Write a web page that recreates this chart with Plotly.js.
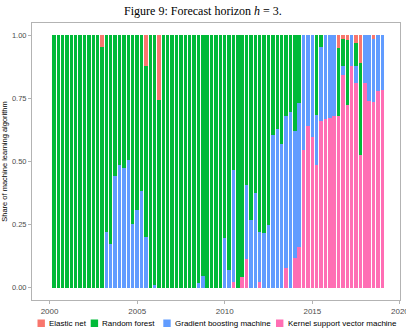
<!DOCTYPE html>
<html>
<head>
<meta charset="utf-8">
<script src="https://cdn.plot.ly/plotly-3.0.1.min.js"></script>
<style>
  html, body { margin: 0; padding: 0; background: #ffffff; }
  #chart { width: 406px; height: 328px; }
</style>
</head>
<body>
<div id="chart"></div>
<script>
// Quarter-end dates of the forecast origins
const quarters = [
  '2000-03-31','2000-06-30','2000-09-30','2000-12-31',
  '2001-03-31','2001-06-30','2001-09-30','2001-12-31',
  '2002-03-31','2002-06-30','2002-09-30','2002-12-31',
  '2003-03-31','2003-06-30','2003-09-30','2003-12-31',
  '2004-03-31','2004-06-30','2004-09-30','2004-12-31',
  '2005-03-31','2005-06-30','2005-09-30','2005-12-31',
  '2006-03-31','2006-06-30','2006-09-30','2006-12-31',
  '2007-03-31','2007-06-30','2007-09-30','2007-12-31',
  '2008-03-31','2008-06-30','2008-09-30','2008-12-31',
  '2009-03-31','2009-06-30','2009-09-30','2009-12-31',
  '2010-03-31','2010-06-30','2010-09-30','2010-12-31',
  '2011-03-31','2011-06-30','2011-09-30','2011-12-31',
  '2012-03-31','2012-06-30','2012-09-30','2012-12-31',
  '2013-03-31','2013-06-30','2013-09-30','2013-12-31',
  '2014-03-31','2014-06-30','2014-09-30','2014-12-31',
  '2015-03-31','2015-06-30','2015-09-30','2015-12-31',
  '2016-03-31','2016-06-30','2016-09-30','2016-12-31',
  '2017-03-31','2017-06-30','2017-09-30','2017-12-31',
  '2018-03-31','2018-06-30','2018-09-30','2018-12-31'
];

// Share of each algorithm per quarter (four values per row = one year)
const elasticNet = [
  0, 0, 0, 0,
  0, 0, 0, 0,
  0, 0, 0, 0.046,
  0, 0, 0, 0,
  0, 0, 0, 0,
  0, 0.123, 0, 0,
  0.255, 0, 0, 0,
  0, 0, 0, 0,
  0, 0, 0, 0,
  0, 0, 0, 0,
  0, 0, 0, 0,
  0, 0, 0, 0,
  0, 0, 0, 0,
  0, 0, 0, 0,
  0, 0, 0, 0,
  0, 0, 0, 0,
  0, 0.049, 0.016, 0.017,
  0, 0.030, 0.110, 0,
  0, 0.016, 0, 0
];
const randomForest = [
  1, 1, 1, 1,
  1, 1, 1, 1,
  1, 1, 1, 0.954,
  0.778, 0.827, 0.557, 0.513,
  0.526, 0.493, 0.747, 0.694,
  0.615, 0.675, 1, 0.990,
  0.745, 1, 1, 1,
  1, 1, 1, 1,
  1, 0.980, 0.954, 1,
  1, 1, 1, 0.804,
  0.932, 0.533, 1, 0.956,
  0.593, 0.731, 0.626, 0.778,
  0.784, 0.751, 0.394, 0.372,
  0.430, 0.321, 0.302, 0.381,
  0.269, 0, 0, 0,
  0.315, 0.045, 0, 0,
  0, 0.272, 0.107, 0.258,
  0, 0.093, 0.364, 0,
  0, 0, 0, 0
];
const gradientBoosting = [
  0, 0, 0, 0,
  0, 0, 0, 0,
  0, 0, 0, 0,
  0.222, 0.173, 0.443, 0.487,
  0.474, 0.507, 0.253, 0.306,
  0.385, 0.202, 0, 0.010,
  0, 0, 0, 0,
  0, 0, 0, 0,
  0, 0.020, 0.046, 0,
  0, 0, 0, 0.196,
  0.068, 0.446, 0, 0,
  0.295, 0.269, 0.374, 0.198,
  0.216, 0.249, 0.606, 0.628,
  0.570, 0.600, 0.698, 0.503,
  0.568, 0.454, 0.361, 0.403,
  0.198, 0.296, 0.331, 0.328,
  0.321, 0, 0.033, 0,
  0.120, 0.066, 0, 0.189,
  0.262, 0.250, 0.222, 0.216
];
const kernelSVM = [
  0, 0, 0, 0,
  0, 0, 0, 0,
  0, 0, 0, 0,
  0, 0, 0, 0,
  0, 0, 0, 0,
  0, 0, 0, 0,
  0, 0, 0, 0,
  0, 0, 0, 0,
  0, 0, 0, 0,
  0, 0, 0, 0,
  0, 0.021, 0, 0.044,
  0.112, 0, 0, 0.024,
  0, 0, 0, 0,
  0, 0.079, 0, 0.116,
  0.163, 0.546, 0.639, 0.597,
  0.487, 0.659, 0.669, 0.672,
  0.679, 0.679, 0.844, 0.725,
  0.880, 0.811, 0.526, 0.811,
  0.738, 0.734, 0.778, 0.784
];

const seriesNames = ['Elastic net', 'Random forest', 'Gradient boosting machine', 'Kernel support vector machine'];
const seriesColors = ['#F8766D', '#00BA38', '#619CFF', '#FF6EB4'];
const seriesValues = [elasticNet, randomForest, gradientBoosting, kernelSVM];

// Stack from the bottom up: kernel SVM first, elastic net on top
const traces = [3, 2, 1, 0].map(k => ({
  type: 'bar',
  x: quarters,
  y: seriesValues[k],
  name: seriesNames[k],
  marker: { color: seriesColors[k], line: { width: 0 } },
  showlegend: false,
  hoverinfo: 'x+y+name'
}));

// Plot area geometry in pixels
const W = 406, H = 328;
const M = { l: 32, r: 6, t: 23, b: 28 };
const pw = W - M.l - M.r, ph = H - M.t - M.b;
const px = v => (v - M.l) / pw;
const py = v => (H - M.b - v) / ph;

// Legend along the bottom edge
const keyX = [37.5, 90.7, 163.3, 276];
const textX = [48, 101, 174, 287];
const shapes = [];
const annotations = [];
seriesNames.forEach((name, k) => {
  shapes.push({
    type: 'rect', xref: 'paper', yref: 'paper',
    x0: px(keyX[k]), x1: px(keyX[k] + 7.4),
    y0: py(319.5), y1: py(327),
    fillcolor: seriesColors[k], line: { width: 0 }
  });
  annotations.push({
    xref: 'paper', yref: 'paper',
    x: px(textX[k]), y: py(323.3),
    xanchor: 'left', yanchor: 'middle',
    text: name, showarrow: false, borderpad: 0,
    font: { family: 'Liberation Sans, Arial, sans-serif', size: 8, color: '#000000' }
  });
});

const layout = {
  width: W, height: H,
  margin: M,
  paper_bgcolor: '#ffffff',
  plot_bgcolor: '#ffffff',
  barmode: 'stack',
  bargap: 0.2,
  showlegend: false,
  font: { family: 'Liberation Sans, Arial, sans-serif', color: '#4D4D4D' },
  title: {
    text: 'Figure 9: Forecast horizon <i>h</i> = 3.',
    font: { family: 'Liberation Serif, Times New Roman, serif', size: 12, color: '#000000' },
    xref: 'container', x: 0.5, xanchor: 'center',
    yref: 'container', y: 1 - 11 / H, yanchor: 'middle'
  },
  xaxis: {
    type: 'date',
    range: ['1998-12-31', '2020-01-03'],
    tick0: '2000-01-01',
    dtick: 'M60',
    tickformat: '%Y',
    ticklabeloverflow: 'allow',
    showgrid: false,
    zeroline: false,
    showline: true, mirror: true,
    linecolor: '#B3B3B3', linewidth: 1,
    ticks: 'outside', ticklen: 3, tickcolor: '#B3B3B3',
    tickfont: { size: 8, color: '#4D4D4D' }
  },
  yaxis: {
    range: [-0.049, 1.049],
    tickvals: [0, 0.25, 0.5, 0.75, 1],
    ticktext: ['0.00', '0.25', '0.50', '0.75', '1.00'],
    showgrid: false,
    zeroline: false,
    showline: true, mirror: true,
    linecolor: '#B3B3B3', linewidth: 1,
    ticks: 'outside', ticklen: 3, tickcolor: '#B3B3B3',
    tickfont: { size: 7.5, color: '#4D4D4D' },
    title: {
      text: 'Share of machine learning algorithm',
      font: { size: 7.5, color: '#000000' },
      standoff: 4
    }
  },
  shapes: shapes,
  annotations: annotations
};

Plotly.newPlot('chart', traces, layout, { staticPlot: true, displayModeBar: false });
</script>
</body>
</html>
